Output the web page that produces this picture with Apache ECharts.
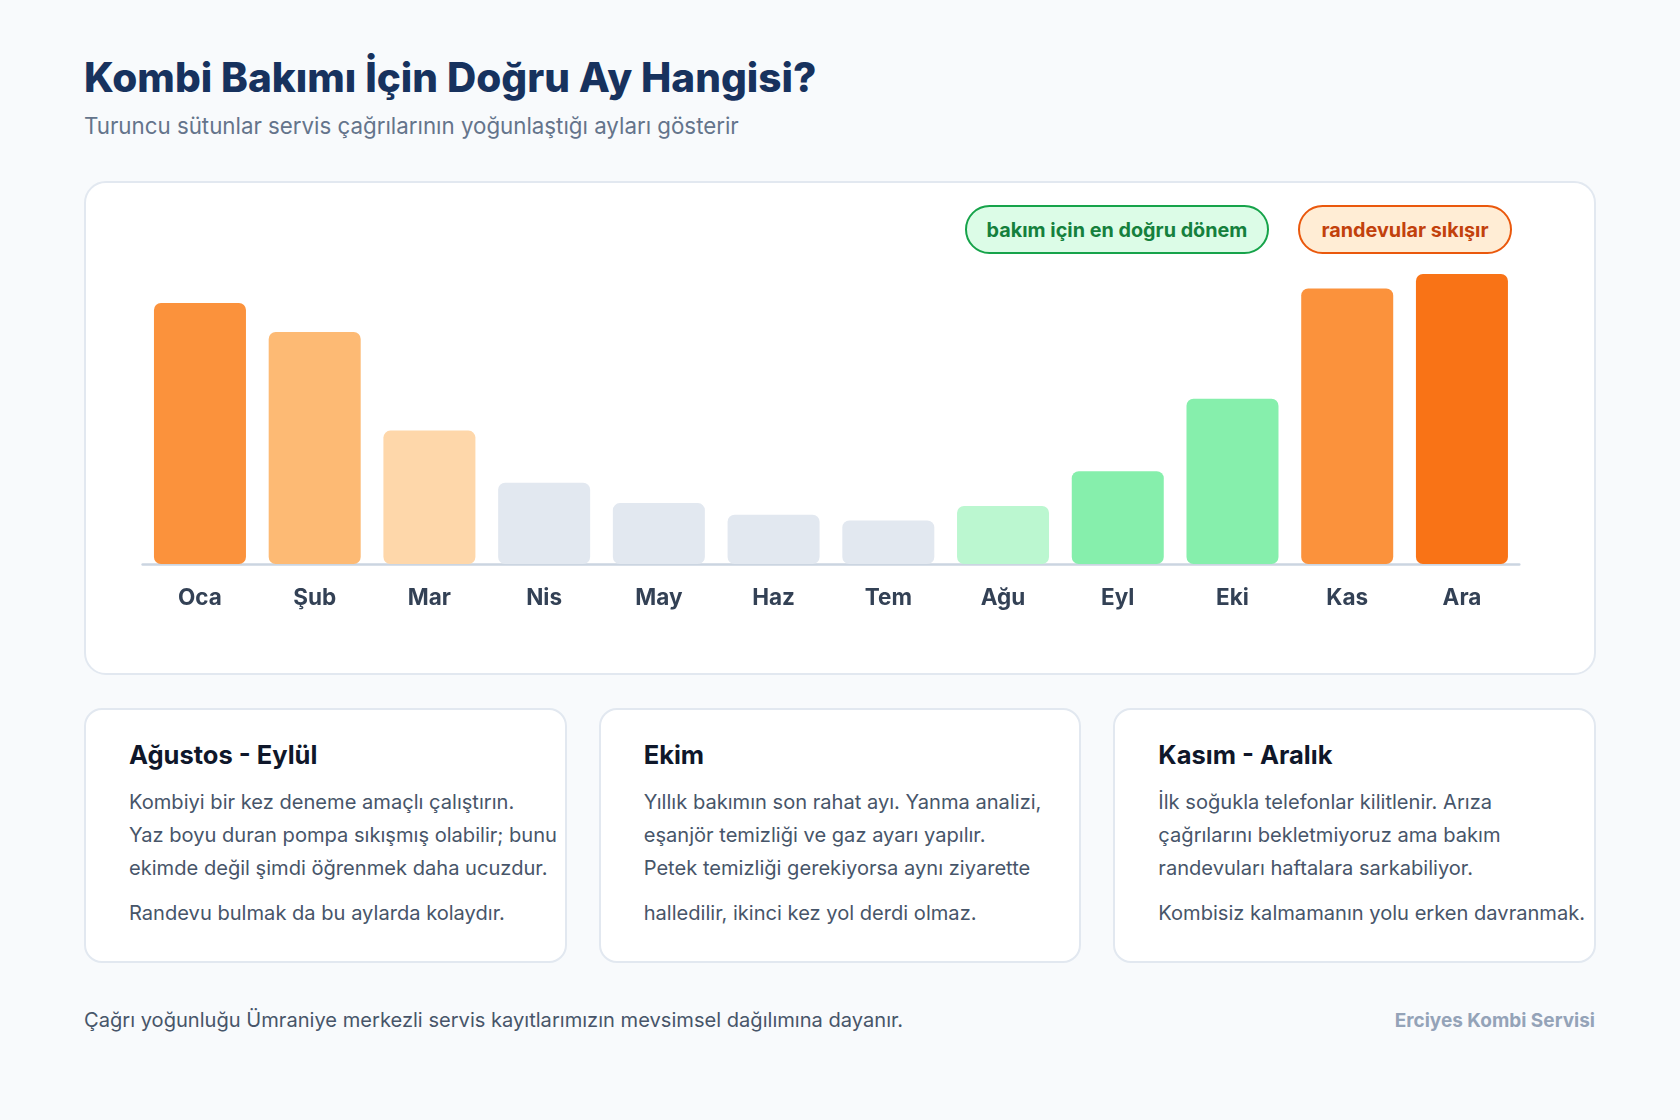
<!DOCTYPE html>
<html lang="tr">
<head>
<meta charset="utf-8">
<title>Kombi Bakımı İçin Doğru Ay Hangisi?</title>
<script src="https://cdn.jsdelivr.net/npm/echarts@6/dist/echarts.min.js"></script>
<style>
  html, body { margin: 0; padding: 0; }
  body {
    width: 1680px; height: 1120px; position: relative; overflow: hidden;
    background: #f8fafc; font-family: Inter, "Noto Sans", sans-serif;
  }
  .abs { position: absolute; white-space: nowrap; }
  #title { left: 84px; top: 54px; font-size: 40.5px; line-height: 48px; font-weight: 800; color: #17325e; }
  #subtitle { left: 84px; top: 112px; font-size: 22.3px; line-height: 27px; color: #64748b; }
  #chartCard { left: 84px; top: 181px; width: 1512px; height: 494px; box-sizing: border-box;
    background: #fff; border: 2px solid #e2e8f0; border-radius: 22px; }
  #chart { position: absolute; left: 0; top: 0; width: 1680px; height: 700px; }
  .badge { position: absolute; top: 205px; height: 49px; box-sizing: border-box; border-radius: 25px;
    border: 2.5px solid; font-size: 19.8px; font-weight: 700; display: flex; align-items: center; justify-content: center; }
  #badgeGreen { left: 965px; width: 304px; border-color: #16a34a; background: #dcfce7; color: #15803d; }
  #badgeOrange { left: 1298px; width: 214px; border-color: #ea580c; background: #ffedd5; color: #c2410c; }
  #cards { position: absolute; left: 84px; top: 708px; width: 1512px; height: 255px; display: flex; gap: 32px; }
  .card { flex: 1; position: relative; box-sizing: border-box; background: #fff; border: 2px solid #e2e8f0;
    border-radius: 18px; padding: 30px 0 0 43px; }
  .card h3 { margin: 0; font-size: 25.5px; line-height: 30px; font-weight: 700; color: #0f172a; }
  .card p { margin: 16px 0 0 0; font-size: 20.1px; line-height: 33px; color: #475569; white-space: nowrap; }
  .card p + p { margin-top: 12px; }
  #note { left: 84px; top: 1005px; font-size: 20.1px; line-height: 30px; color: #475569; }
  #brand { right: 85px; top: 1007px; font-size: 19px; line-height: 28px; font-weight: 700; color: #94a3b8; }
</style>
</head>
<body>
<div id="title" class="abs">Kombi Bakımı İçin Doğru Ay Hangisi?</div>
<div id="subtitle" class="abs">Turuncu sütunlar servis çağrılarının yoğunlaştığı ayları gösterir</div>

<div id="chartCard" class="abs"></div>
<div id="chart"></div>
<div id="badgeGreen" class="badge">bakım için en doğru dönem</div>
<div id="badgeOrange" class="badge">randevular sıkışır</div>

<div id="cards">
  <div class="card">
    <h3>Ağustos - Eylül</h3>
    <p>Kombiyi bir kez deneme amaçlı çalıştırın.<br>Yaz boyu duran pompa sıkışmış olabilir; bunu<br>ekimde değil şimdi öğrenmek daha ucuzdur.</p>
    <p>Randevu bulmak da bu aylarda kolaydır.</p>
  </div>
  <div class="card">
    <h3>Ekim</h3>
    <p>Yıllık bakımın son rahat ayı. Yanma analizi,<br>eşanjör temizliği ve gaz ayarı yapılır.<br>Petek temizliği gerekiyorsa aynı ziyarette</p>
    <p>halledilir, ikinci kez yol derdi olmaz.</p>
  </div>
  <div class="card">
    <h3>Kasım - Aralık</h3>
    <p>İlk soğukla telefonlar kilitlenir. Arıza<br>çağrılarını bekletmiyoruz ama bakım<br>randevuları haftalara sarkabiliyor.</p>
    <p>Kombisiz kalmamanın yolu erken davranmak.</p>
  </div>
</div>

<div id="note" class="abs">Çağrı yoğunluğu Ümraniye merkezli servis kayıtlarımızın mevsimsel dağılımına dayanır.</div>
<div id="brand" class="abs">Erciyes Kombi Servisi</div>

<script>
// aylar ve çağrı yoğunluğu (en yoğun ay = 100)
var months = ['Oca', 'Şub', 'Mar', 'Nis', 'May', 'Haz', 'Tem', 'Ağu', 'Eyl', 'Eki', 'Kas', 'Ara'];
var callLoad = [90, 80, 46, 28, 21, 17, 15, 20, 32, 57, 95, 100];
// sütun renkleri: turuncu = yoğun, yeşil = bakım dönemi, gri = sakin
var barColors = ['#fb923c', '#fdba74', '#fed7aa', '#e2e8f0', '#e2e8f0', '#e2e8f0',
  '#e2e8f0', '#bbf7d0', '#86efac', '#86efac', '#fb923c', '#f97316'];

var myChart = echarts.init(document.getElementById('chart'), null, { renderer: 'canvas' });

var option = {
  animation: false,
  grid: {
    left: 142.6,
    right: 160.7,
    top: 274,
    bottom: 136,
  },
  xAxis: {
    type: 'category',
    data: months,
    axisLine: {
      show: true,
      lineStyle: { color: '#cbd5e1', width: 2.5 },
    },
    axisTick: { show: false },
    axisLabel: {
      margin: 23,
      fontSize: 22.5,
      fontWeight: 700,
      color: '#334155',
      fontFamily: 'Inter',
    },
  },
  yAxis: {
    type: 'value',
    min: 0,
    max: 100,
    show: false,
    splitLine: { show: false },
  },
  series: [
    {
      name: 'Çağrı yoğunluğu',
      type: 'bar',
      barWidth: 92,
      data: callLoad,
      itemStyle: {
        borderRadius: 7,
        color: function (params) {
          return barColors[params.dataIndex];
        },
      },
    },
  ],
};
myChart.setOption(option);
</script>
</body>
</html>
